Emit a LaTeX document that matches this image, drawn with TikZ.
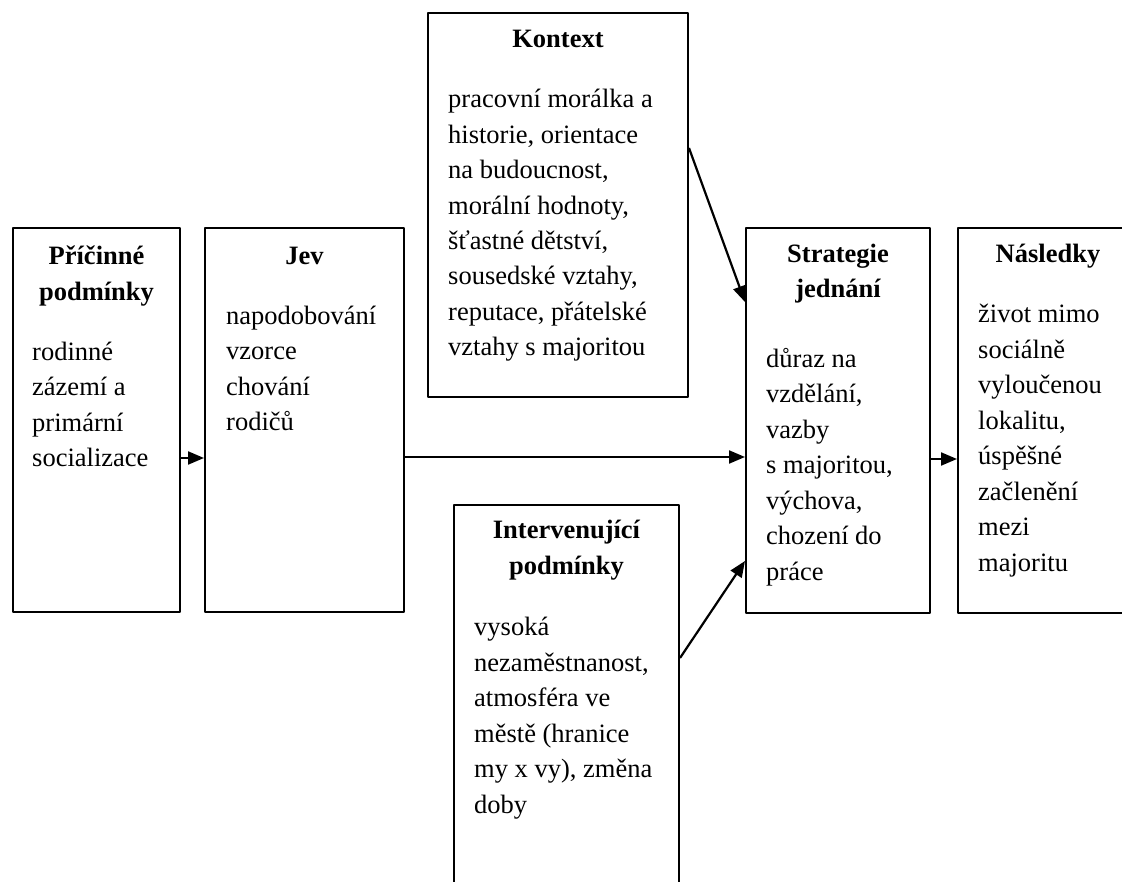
\documentclass[tikz,border=0pt]{standalone}
\usepackage{fontspec}
\setmainfont{Liberation Serif}
\usetikzlibrary{positioning,arrows.meta}
\begin{document}
\begin{tikzpicture}[x=1pt,y=-1pt,line join=round,>={Triangle[length=16pt,width=13pt]}]
	\tikzset{box/.style={draw,line width=2pt,anchor=north west,inner sep=0pt},
		title/.style={font=\bfseries\fontsize{26.5}{35.5}\selectfont,align=center,anchor=base,inner sep=0pt},
		body/.style={font=\fontsize{26.5}{35.5}\selectfont,align=left,anchor=base west,inner sep=0pt},
		link/.style={->,line width=2.2pt}}
	\useasboundingbox (0,0) rectangle (1122,882);
	\clip (0,0) rectangle (1122,882);
	% boxes
	\node[box,minimum width=167pt,minimum height=384pt] (pric) at (12,227) {};
	\node[box,minimum width=199pt,minimum height=384pt] (jev) at (204,227) {};
	\node[box,minimum width=260pt,minimum height=384pt] (kont) at (427,12) {};
	\node[box,minimum width=225pt,minimum height=400pt] (interv) at (453,504) {};
	\node[box,minimum width=184pt,minimum height=385pt] (strat) at (745,227) {};
	\node[box,minimum width=182pt,minimum height=385pt] (nasl) at (957,227) {};
	% texts (anchored at the baseline of the last line)
	\node[title] (pricT) at ([yshift=-73.5pt]pric.north) {Příčinné\\podmínky};
	\node[body] (pricB) at ([xshift=20pt,yshift=-240pt]pric.north west) {rodinné\\zázemí a\\primární\\socializace};
	\node[title] (jevT) at ([yshift=-38pt]jev.north) {Jev};
	\node[body] (jevB) at ([xshift=22pt,yshift=-204pt]jev.north west) {napodobování\\vzorce\\chování\\rodičů};
	\node[title] (kontT) at ([yshift=-36pt]kont.north) {Kontext};
	\node[body] (kontB) at ([xshift=21pt,yshift=-344pt]kont.north west) {pracovní morálka a\\historie, orientace\\na budoucnost,\\morální hodnoty,\\šťastné dětství,\\sousedské vztahy,\\reputace, přátelské\\vztahy s majoritou};
	\node[title] (intervT) at ([yshift=-70pt]interv.north) {Intervenující\\podmínky};
	\node[body] (intervB) at ([xshift=21pt,yshift=-309pt]interv.north west) {vysoká\\nezaměstnanost,\\atmosféra ve\\městě (hranice\\my x vy), změna\\doby};
	\node[title] (stratT) at ([yshift=-71pt]strat.north) {Strategie\\jednání};
	\node[body] (stratB) at ([xshift=21pt,yshift=-353pt]strat.north west) {důraz na\\vzdělání,\\vazby\\s majoritou,\\výchova,\\chození do\\práce};
	\node[title] (naslT) at ([yshift=-36pt,xshift=-1pt]nasl.north) {Následky};
	\node[body] (naslB) at ([xshift=21pt,yshift=-344pt]nasl.north west) {život mimo\\sociálně\\vyloučenou\\lokalitu,\\úspěšné\\začlenění\\mezi\\majoritu};
	% arrows
	\draw[link] (pric.east |- 0,458) -- (jev.west |- 0,458);
	\draw[link] (jev.east |- 0,457) -- (strat.west |- 0,457);
	\draw[link] (strat.east |- 0,459) -- (nasl.west |- 0,459);
	\draw[link] (kont.east |- 0,148) -- (strat.west |- 0,302);
	\draw[link] (interv.east |- 0,658) -- (strat.west |- 0,561);
\end{tikzpicture}
\end{document}
